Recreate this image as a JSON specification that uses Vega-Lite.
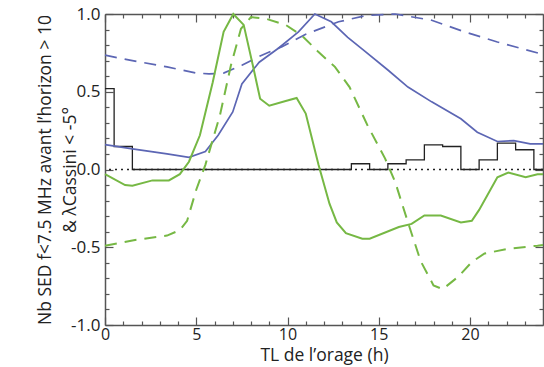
{
  "$schema": "https://vega.github.io/schema/vega-lite/v6.json",
  "width": 438,
  "height": 311,
  "autosize": {"type": "none"},
  "padding": {"left": 105, "top": 14, "right": 1, "bottom": 42},
  "config": {
    "font": "Open Sans",
    "view": {"stroke": null},
    "axis": {"grid": false, "domainColor": "#555", "domainWidth": 1.5, "tickColor": "#555", "tickWidth": 1.2, "labelColor": "#222", "titleColor": "#222", "labelFontSize": 17, "titleFontSize": 18, "titleFontWeight": "normal"}
  },
  "datasets": {
    "curves": [
      {"s": "bs", "x": 0, "y": 0.16}, {"s": "bs", "x": 1.5, "y": 0.133}, {"s": "bs", "x": 3.4, "y": 0.1}, {"s": "bs", "x": 4.6, "y": 0.078},
      {"s": "bs", "x": 5.5, "y": 0.115}, {"s": "bs", "x": 6.2, "y": 0.22}, {"s": "bs", "x": 7.0, "y": 0.37}, {"s": "bs", "x": 7.5, "y": 0.55},
      {"s": "bs", "x": 8.45, "y": 0.69}, {"s": "bs", "x": 9.5, "y": 0.78}, {"s": "bs", "x": 10.6, "y": 0.885}, {"s": "bs", "x": 11.5, "y": 1.0},
      {"s": "bs", "x": 12.4, "y": 0.95}, {"s": "bs", "x": 13.3, "y": 0.85}, {"s": "bs", "x": 14.2, "y": 0.765}, {"s": "bs", "x": 15.5, "y": 0.64},
      {"s": "bs", "x": 16.6, "y": 0.53}, {"s": "bs", "x": 17.9, "y": 0.435}, {"s": "bs", "x": 19.5, "y": 0.326}, {"s": "bs", "x": 20.4, "y": 0.24},
      {"s": "bs", "x": 21.5, "y": 0.18}, {"s": "bs", "x": 22.4, "y": 0.186}, {"s": "bs", "x": 23.3, "y": 0.165}, {"s": "bs", "x": 24, "y": 0.165},
      {"s": "bd", "x": 0, "y": 0.735}, {"s": "bd", "x": 1.5, "y": 0.7}, {"s": "bd", "x": 3.4, "y": 0.66}, {"s": "bd", "x": 5.0, "y": 0.62},
      {"s": "bd", "x": 5.7, "y": 0.615}, {"s": "bd", "x": 6.5, "y": 0.62}, {"s": "bd", "x": 7.5, "y": 0.67}, {"s": "bd", "x": 8.5, "y": 0.73},
      {"s": "bd", "x": 9.7, "y": 0.79}, {"s": "bd", "x": 11, "y": 0.87}, {"s": "bd", "x": 12.8, "y": 0.95}, {"s": "bd", "x": 14.3, "y": 0.99},
      {"s": "bd", "x": 15.9, "y": 1.0}, {"s": "bd", "x": 17.9, "y": 0.96}, {"s": "bd", "x": 19.7, "y": 0.885}, {"s": "bd", "x": 21.5, "y": 0.82},
      {"s": "bd", "x": 24, "y": 0.74},
      {"s": "gs", "x": 0, "y": -0.03}, {"s": "gs", "x": 1.1, "y": -0.1}, {"s": "gs", "x": 1.5, "y": -0.105}, {"s": "gs", "x": 2.6, "y": -0.07},
      {"s": "gs", "x": 3.5, "y": -0.07}, {"s": "gs", "x": 4.1, "y": -0.03}, {"s": "gs", "x": 4.6, "y": 0.05}, {"s": "gs", "x": 5.2, "y": 0.22},
      {"s": "gs", "x": 5.9, "y": 0.56}, {"s": "gs", "x": 6.5, "y": 0.885}, {"s": "gs", "x": 7.03, "y": 1.0}, {"s": "gs", "x": 7.6, "y": 0.93},
      {"s": "gs", "x": 8.1, "y": 0.67}, {"s": "gs", "x": 8.5, "y": 0.455}, {"s": "gs", "x": 9.0, "y": 0.41}, {"s": "gs", "x": 9.9, "y": 0.44},
      {"s": "gs", "x": 10.5, "y": 0.46}, {"s": "gs", "x": 11.0, "y": 0.36}, {"s": "gs", "x": 11.7, "y": 0.03}, {"s": "gs", "x": 12.3, "y": -0.22},
      {"s": "gs", "x": 12.7, "y": -0.34}, {"s": "gs", "x": 13.2, "y": -0.41}, {"s": "gs", "x": 14.1, "y": -0.445}, {"s": "gs", "x": 14.5, "y": -0.445},
      {"s": "gs", "x": 16.1, "y": -0.37}, {"s": "gs", "x": 16.8, "y": -0.35}, {"s": "gs", "x": 17.5, "y": -0.296}, {"s": "gs", "x": 18.4, "y": -0.296},
      {"s": "gs", "x": 19.5, "y": -0.34}, {"s": "gs", "x": 20.1, "y": -0.33}, {"s": "gs", "x": 20.5, "y": -0.26}, {"s": "gs", "x": 21.5, "y": -0.05},
      {"s": "gs", "x": 22.1, "y": -0.02}, {"s": "gs", "x": 23.05, "y": -0.05}, {"s": "gs", "x": 23.7, "y": -0.03}, {"s": "gs", "x": 24, "y": -0.03},
      {"s": "gd", "x": 0, "y": -0.49}, {"s": "gd", "x": 1.5, "y": -0.456}, {"s": "gd", "x": 3.4, "y": -0.425}, {"s": "gd", "x": 4.1, "y": -0.39},
      {"s": "gd", "x": 4.5, "y": -0.33}, {"s": "gd", "x": 5.0, "y": -0.13}, {"s": "gd", "x": 5.5, "y": 0.03}, {"s": "gd", "x": 6.3, "y": 0.35},
      {"s": "gd", "x": 6.9, "y": 0.67}, {"s": "gd", "x": 7.45, "y": 0.905}, {"s": "gd", "x": 8.0, "y": 0.98}, {"s": "gd", "x": 8.8, "y": 0.97},
      {"s": "gd", "x": 9.9, "y": 0.93}, {"s": "gd", "x": 10.8, "y": 0.86}, {"s": "gd", "x": 11.7, "y": 0.755}, {"s": "gd", "x": 12.6, "y": 0.66},
      {"s": "gd", "x": 13.4, "y": 0.53}, {"s": "gd", "x": 14.4, "y": 0.28}, {"s": "gd", "x": 15.35, "y": 0.07}, {"s": "gd", "x": 15.9, "y": -0.08},
      {"s": "gd", "x": 16.6, "y": -0.34}, {"s": "gd", "x": 17.3, "y": -0.59}, {"s": "gd", "x": 18.0, "y": -0.745}, {"s": "gd", "x": 18.5, "y": -0.77},
      {"s": "gd", "x": 19.35, "y": -0.69}, {"s": "gd", "x": 20.1, "y": -0.595}, {"s": "gd", "x": 20.8, "y": -0.54}, {"s": "gd", "x": 22.1, "y": -0.51},
      {"s": "gd", "x": 23.7, "y": -0.49}, {"s": "gd", "x": 24, "y": -0.485}
    ],
    "hist": [
      {"x": 0, "y": 0.52}, {"x": 0.5, "y": 0.148}, {"x": 1.5, "y": 0}, {"x": 13.5, "y": 0.037}, {"x": 14.5, "y": 0},
      {"x": 15.5, "y": 0.037}, {"x": 16.5, "y": 0.062}, {"x": 17.5, "y": 0.159}, {"x": 18.5, "y": 0.148}, {"x": 19.5, "y": 0},
      {"x": 20.5, "y": 0.062}, {"x": 21.5, "y": 0.17}, {"x": 22.5, "y": 0.127}, {"x": 23.5, "y": 0}, {"x": 24, "y": 0}
    ],
    "zero": [{"y": 0}]
  },
  "layer": [
    {
      "data": {"name": "zero"},
      "mark": {"type": "rule", "color": "#222", "strokeDash": [2, 4], "strokeWidth": 1.3},
      "encoding": {"y": {"field": "y", "type": "quantitative", "scale": {"domain": [-1, 1]}, "axis": null}}
    },
    {
      "data": {"name": "hist"},
      "mark": {"type": "line", "interpolate": "step-after", "color": "#222", "strokeWidth": 1.3},
      "encoding": {
        "x": {"field": "x", "type": "quantitative", "scale": {"domain": [0, 24], "nice": false},
          "axis": {"orient": "bottom", "values": [0, 5, 10, 15, 20], "tickSize": -8, "labelPadding": 9, "labelFontSize": 16, "title": "TL de l\u2019orage (h)", "titleFontSize": 17.5, "titlePadding": 4, "labelFlush": false}},
        "y": {"field": "y", "type": "quantitative", "scale": {"domain": [-1, 1], "nice": false},
          "axis": {"orient": "left", "values": [-1, -0.5, 0, 0.5, 1], "tickSize": -8, "labelPadding": 13,
            "labelExpr": "datum.value < 0 ? '-' + format(-datum.value, '.1f') : format(datum.value, '.1f')",
            "title": ["Nb SED f<7.5 MHz avant l\u2019horizon > 10", "& \u03bbCassini < -5\u00b0"], "titleFontSize": 17.5, "titlePadding": -9, "titleLineHeight": 25}}
      }
    },
    {
      "data": {"name": "curves"},
      "transform": [{"filter": "datum.s === 'bs'"}],
      "mark": {"type": "line", "color": "#5c66b4", "strokeWidth": 1.7},
      "encoding": {
        "x": {"field": "x", "type": "quantitative", "axis": {"orient": "bottom", "values": [1,2,3,4,6,7,8,9,11,12,13,14,16,17,18,19,21,22,23], "tickSize": -4, "labels": false, "domain": false, "title": null}},
        "y": {"field": "y", "type": "quantitative", "axis": {"orient": "left", "values": [-0.9,-0.8,-0.7,-0.6,-0.4,-0.3,-0.2,-0.1,0.1,0.2,0.3,0.4,0.6,0.7,0.8,0.9], "tickSize": -4, "labels": false, "domain": false, "title": null}}
      }
    },
    {
      "data": {"name": "curves"},
      "transform": [{"filter": "datum.s === 'bd'"}],
      "mark": {"type": "line", "color": "#5c66b4", "strokeWidth": 1.7, "strokeDash": [12, 8]},
      "encoding": {
        "x": {"field": "x", "type": "quantitative", "axis": {"orient": "top", "values": [0, 5, 10, 15, 20], "tickSize": -8, "labels": false, "title": null}},
        "y": {"field": "y", "type": "quantitative", "axis": {"orient": "right", "values": [-1, -0.5, 0, 0.5, 1], "tickSize": -8, "labels": false, "title": null}}
      }
    },
    {
      "data": {"name": "curves"},
      "transform": [{"filter": "datum.s === 'gs'"}],
      "mark": {"type": "line", "color": "#76b844", "strokeWidth": 2},
      "encoding": {
        "x": {"field": "x", "type": "quantitative", "axis": {"orient": "top", "values": [1,2,3,4,6,7,8,9,11,12,13,14,16,17,18,19,21,22,23], "tickSize": -4, "labels": false, "domain": false, "title": null}},
        "y": {"field": "y", "type": "quantitative", "axis": {"orient": "right", "values": [-0.9,-0.8,-0.7,-0.6,-0.4,-0.3,-0.2,-0.1,0.1,0.2,0.3,0.4,0.6,0.7,0.8,0.9], "tickSize": -4, "labels": false, "domain": false, "title": null}}
      }
    },
    {
      "data": {"name": "curves"},
      "transform": [{"filter": "datum.s === 'gd'"}],
      "mark": {"type": "line", "color": "#76b844", "strokeWidth": 2, "strokeDash": [12, 8]},
      "encoding": {
        "x": {"field": "x", "type": "quantitative", "axis": null},
        "y": {"field": "y", "type": "quantitative", "axis": null}
      }
    }
  ],
  "resolve": {"axis": {"x": "independent", "y": "independent"}}
}
